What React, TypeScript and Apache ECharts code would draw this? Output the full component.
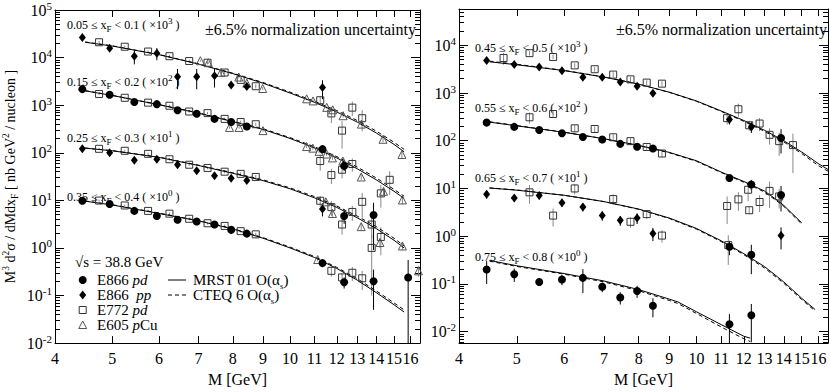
import React, { useEffect, useRef } from "react";
import * as echarts from "echarts";

const FONT = '"Liberation Serif", "Times New Roman", Times, serif';

// ---------- axes ----------
const M_RANGE = [4, 16.6];
const M_TICK_LABELS = [4, 5, 6, 7, 8, 9, 10, 11, 12, 13, 14, 15, 16];
const LEFT_LOG_RANGE = [-2, 5];
const RIGHT_LOG_RANGE = [-2.24, 4.76];

// ---------- texts ----------
const Y_TITLE = "M{sup|3} d{sup|2}σ / dMdx{sub|F} [ nb GeV{sup|2} / nucleon ]";
const X_TITLE = "M [GeV]";
const NORM_TEXT = "±6.5% normalization uncertainty";
const LEFT_BIN_LABELS = [
  "0.05 ≤ x{sub|F} < 0.1 ( ×10{sup|3} )",
  "0.15 ≤ x{sub|F} < 0.2 ( ×10{sup|2} )",
  "0.25 ≤ x{sub|F} < 0.3 ( ×10{sup|1} )",
  "0.35 ≤ x{sub|F} < 0.4 ( ×10{sup|0} )",
];
const RIGHT_BIN_LABELS = [
  "0.45 ≤ x{sub|F} < 0.5 ( ×10{sup|3} )",
  "0.55 ≤ x{sub|F} < 0.6 ( ×10{sup|2} )",
  "0.65 ≤ x{sub|F} < 0.7 ( ×10{sup|1} )",
  "0.75 ≤ x{sub|F} < 0.8 ( ×10{sup|0} )",
];

// ---------- theory curves [M, value] ----------
const bin1_MRST = [[4.5,21000],[5,17500],[6,11500],[7,7300],[8,4600],[9,2900],[10,1800],[11,1150],[12,720],[13,440],[14,260],[15,150],[15.6,105]];
const bin1_CTEQ = [[4.5,21300],[5,17700],[6,11600],[7,7400],[8,4700],[9,3000],[10,1880],[11,1210],[12,770],[13,475],[14,285],[15,166],[15.6,118]];
const bin2_MRST = [[4.5,2000],[5,1600],[6,1020],[7,680],[8,450],[9,310],[10,200],[11,127],[12,78],[13,46],[14,27],[15,15.5],[15.6,11]];
const bin2_CTEQ = [[4.5,2020],[5,1610],[6,1030],[7,690],[8,460],[9,320],[10,208],[11,134],[12,83],[13,50],[14,29.5],[15,17],[15.6,12.2]];
const bin3_MRST = [[4.5,125],[5,110],[6,80],[7,54],[8,37],[9,26],[10,17.5],[11,11.3],[12,7.1],[13,4.3],[14,2.55],[15,1.45],[15.6,1.0]];
const bin3_CTEQ = [[4.5,126],[5,111],[6,81],[7,55],[8,38],[9,27],[10,18.3],[11,12],[12,7.6],[13,4.65],[14,2.8],[15,1.6],[15.6,1.1]];
const bin4_MRST = [[4.5,9.6],[5,8.0],[6,5.3],[7,3.7],[8,2.5],[9,1.6],[10,1.0],[11,0.63],[12,0.37],[13,0.21],[14,0.115],[15,0.064],[15.6,0.045]];
const bin4_CTEQ = [[4.5,9.7],[5,8.1],[6,5.4],[7,3.75],[8,2.55],[9,1.65],[10,1.04],[11,0.66],[12,0.39],[13,0.225],[14,0.125],[15,0.07],[15.6,0.05]];

const bin5_MRST = [[4.5,4500],[5,3900],[6,2950],[7,2150],[8,1530],[9,1040],[10,680],[11,420],[12,265],[13,165],[14,100],[15,58],[16,33],[16.6,25]];
const bin5_CTEQ = [[4.5,4650],[5,4000],[6,2980],[7,2170],[8,1540],[9,1030],[10,670],[11,410],[12,255],[13,157],[14,94],[15,54],[16,30],[16.6,23]];
const bin6_MRST = [[4.5,245],[5,205],[6,150],[7,110],[8,80],[9,57],[10,38],[11,22],[12,14],[13,8.8],[13.7,5.5],[14,4.4],[15,1.9]];
const bin6_CTEQ = [[4.5,250],[5,208],[6,151],[7,110],[8,79],[9,56],[10,37],[11,21.5],[12,13.5],[13,8.4],[13.7,5.2],[14,4.2],[15,1.8]];
const bin7_MRST = [[4.5,10.2],[5,9.2],[6,7.2],[7,5.3],[8,3.7],[9,2.4],[10,1.45],[11,0.8],[12,0.43],[13,0.23],[14,0.11],[15,0.05],[15.8,0.029]];
const bin7_CTEQ = [[4.5,10.3],[5,9.3],[6,7.2],[7,5.3],[8,3.65],[9,2.35],[10,1.4],[11,0.77],[12,0.41],[13,0.215],[14,0.103],[15,0.047],[15.8,0.027]];
const bin8_MRST = [[4.5,0.31],[5,0.24],[6,0.165],[7,0.115],[8,0.076],[9,0.048],[9.3,0.042],[10,0.026],[11,0.014],[12,0.008],[12.3,0.0073]];
const bin8_CTEQ = [[4.5,0.30],[5,0.232],[6,0.16],[7,0.11],[8,0.072],[9,0.045],[9.3,0.039],[10,0.024],[11,0.0125],[12,0.0071],[12.3,0.0062]];

// ---------- data points [M, value, error] ----------
const bin1_E866pp = [[4.45,26500,2000],[4.95,15700,1800],[5.45,10700,3500],[5.95,12300,3500],[6.45,3960,1800],[6.95,3960,1800],[7.45,4150,1800],[7.95,2660,300],[8.45,2460,300],[11.35,2340,1000]];
const bin1_E772 = [[4.75,21000,1200],[5.25,16900,1000],[5.75,13400,800],[6.25,10700,700],[6.75,8470,600],[7.25,7800,600],[7.75,4850,400],[8.25,3400,300],[8.75,2500,250],[11.25,1270,250],[11.75,671,250],[12.25,292,170],[12.75,887,300],[13.25,532,250]];
const bin1_E605 = [[7.05,8600,400],[7.27,7800,400],[7.64,4900,300],[8.19,3900,250],[8.45,2900,200],[8.99,2240,150],[10.67,1360,80],[10.94,1230,80],[11.54,900,60],[11.81,800,60],[12.3,600,50],[13.21,400,40],[14.37,192,25],[15.47,92,15]];

const bin2_E866pd = [[4.45,2170,80],[4.95,1660,60],[5.45,1170,50],[5.95,1050,45],[6.45,781,35],[6.95,662,30],[7.45,515,25],[7.95,442,22],[8.45,357,20],[11.35,119,12],[12.35,53,12]];
const bin2_E772 = [[4.75,1720,80],[5.25,1430,70],[5.75,1130,60],[6.25,972,50],[6.75,736,40],[7.25,681,40],[7.75,515,30],[8.25,442,30],[8.75,398,30],[11.25,67,25],[11.75,34,12],[12.25,44,15],[12.75,58,18],[14.25,14,7],[14.75,27,14]];
const bin2_E605 = [[7.9,340,20],[8.2,340,20],[9.0,292,18],[10.67,135,10],[10.93,125,10],[11.2,107,9],[11.53,94,8],[11.8,78,7],[12.29,67,6],[13.2,31,4],[14.4,15.5,2.5],[15.5,10.2,2]];

const bin3_E866pp = [[4.45,121,6],[4.95,100,5],[5.45,70,4],[5.95,73,4],[6.45,56,3],[6.95,42,3],[7.45,33,2.5],[7.95,29,2],[8.45,26,2],[11.35,6.6,2]];
const bin3_E866pd = [[12.35,4.7,1.5],[13.85,4.9,4]];
const bin3_E772 = [[4.75,121,6],[5.25,110,6],[5.75,95,5],[6.25,73,4],[6.75,56,3],[7.25,48,3],[7.75,40,3],[8.25,36,3],[8.75,31,3],[11.25,9.8,2.5],[11.75,7.2,2.5],[12.25,3.1,1.2],[12.75,5.7,2],[13.25,9.3,5],[13.75,3.1,1.5],[14.25,1.7,1.0]];
const bin3_E605 = [[11.5,9.3,1],[11.8,5.3,0.8],[13.2,2.8,0.5],[14.2,1.3,0.3],[15.5,1.1,0.2]];

const bin4_E866pd = [[4.45,9.8,0.5],[4.95,8.4,0.45],[5.45,6.0,0.35],[5.95,4.7,0.3],[6.45,3.9,0.25],[6.95,3.6,0.2],[7.45,3.1,0.2],[7.95,2.4,0.15],[8.45,2.0,0.15],[11.35,0.48,0.06],[12.35,0.19,0.05],[13.85,0.2,0.15],[15.85,0.24,0.32]];
const bin4_E772 = [[4.75,9.9,0.5],[5.25,7.8,0.4],[5.75,6.0,0.35],[6.25,5.25,0.3],[6.75,4.1,0.25],[7.25,3.3,0.2],[7.75,2.9,0.2],[8.25,2.25,0.15],[8.75,1.93,0.15],[11.75,0.33,0.08],[12.25,0.24,0.05],[12.75,0.30,0.1],[13.25,0.23,0.1],[13.75,1.0,0.9]];
const bin4_E605 = [[11.14,0.57,0.05],[16.5,0.33,0.08]];

const bin5_E866pp = [[4.45,4790,350],[4.95,3970,300],[5.45,3520,250],[5.95,2930,200],[6.45,2140,200],[6.95,2140,200],[7.45,1700,150],[7.95,1390,130],[8.45,990,120],[11.35,279,60],[12.35,195,50]];
const bin5_E866pd = [[13.85,114,60]];
const bin5_E772 = [[4.75,5420,1500],[5.25,6840,700],[5.75,5680,600],[6.25,3790,400],[6.75,3150,350],[7.25,2430,300],[7.75,1930,250],[8.25,1650,200],[8.75,1570,200],[11.25,297,80],[11.75,457,140],[12.25,211,50],[12.75,229,70],[13.25,133,50],[13.75,98,50],[14.5,81,60]];

const bin6_E866pd = [[4.45,240,15],[4.95,195,12],[5.45,168,10],[5.95,144,9],[6.45,120,8],[6.95,106,7],[7.45,86,6],[7.95,75,5],[8.45,69,5],[11.35,16.6,2.5],[12.35,12.1,3],[13.85,7.3,4]];
const bin6_E772 = [[5.25,310,80],[5.75,363,60],[6.25,182,30],[6.75,176,25],[7.25,118,18],[7.75,98,15],[8.25,74,10],[8.75,54,9]];

const bin7_E866pp = [[4.45,7.6,1.5],[4.95,6.3,1.0],[5.45,7.1,1.2],[5.95,5.0,0.9],[6.45,4.1,0.8],[6.95,2.7,0.6],[7.45,2.15,0.5],[7.95,2.4,0.6],[8.45,1.14,0.35],[13.85,1.03,0.5]];
const bin7_E866pd = [[11.35,0.6,0.2],[12.35,0.41,0.25]];
const bin7_E772 = [[5.25,8.3,3.5],[5.75,2.7,1.1],[6.25,10,2.5],[7.25,6.0,1.5],[7.75,2.0,0.5],[8.25,2.9,0.6],[8.75,1.03,0.3],[11.25,4.3,2.5],[11.3,0.65,0.4],[11.75,5.9,2.5],[12.2,9.4,4],[12.25,3.5,0.6],[12.75,5.2,2],[13.25,8.9,5],[13.75,6.8,3]];

const bin8_E866pd = [[4.45,0.20,0.1],[4.95,0.16,0.05],[5.45,0.11,0.02],[5.95,0.124,0.03],[6.45,0.134,0.07],[6.95,0.087,0.02],[7.45,0.052,0.015],[7.95,0.071,0.02],[8.45,0.035,0.015],[11.35,0.0143,0.009],[12.35,0.022,0.016]];

// ---------- building ----------
const lg = Math.log10;

const LEFT_BINS: any[] = [
  { mrst: bin1_MRST, cteq: bin1_CTEQ, pp: bin1_E866pp, e772: bin1_E772, e605: bin1_E605 },
  { mrst: bin2_MRST, cteq: bin2_CTEQ, pd: bin2_E866pd, e772: bin2_E772, e605: bin2_E605 },
  { mrst: bin3_MRST, cteq: bin3_CTEQ, pp: bin3_E866pp, pd: bin3_E866pd, e772: bin3_E772, e605: bin3_E605 },
  { mrst: bin4_MRST, cteq: bin4_CTEQ, pd: bin4_E866pd, e772: bin4_E772, e605: bin4_E605 },
];
const RIGHT_BINS: any[] = [
  { mrst: bin5_MRST, cteq: bin5_CTEQ, pp: bin5_E866pp, pd: bin5_E866pd, e772: bin5_E772 },
  { mrst: bin6_MRST, cteq: bin6_CTEQ, pd: bin6_E866pd, e772: bin6_E772 },
  { mrst: bin7_MRST, cteq: bin7_CTEQ, pp: bin7_E866pp, pd: bin7_E866pd, e772: bin7_E772 },
  { mrst: bin8_MRST, cteq: bin8_CTEQ, pd: bin8_E866pd },
];

const MARKERS: any = {
  pd: { symbol: "circle", size: 8, fill: "#000", stroke: "#000", err: "#000" },
  pp: { symbol: "diamond", size: [7, 9], fill: "#000", stroke: "#000", err: "#000" },
  e772: { symbol: "rect", size: 7, fill: "rgba(0,0,0,0)", stroke: "#333", err: "#888" },
  e605: { symbol: "triangle", size: 8, fill: "rgba(0,0,0,0)", stroke: "#555", err: "#888" },
};

function majors(r: number[]) {
  const out: number[] = [];
  for (let d = Math.ceil(r[0]); d <= Math.floor(r[1]); d++) out.push(d);
  return out;
}
function minors(r: number[]) {
  const out: number[] = [];
  for (let d = Math.floor(r[0]); d <= Math.ceil(r[1]); d++)
    for (let k = 2; k <= 9; k++) {
      const t = d + lg(k);
      if (t > r[0] && t < r[1]) out.push(t);
    }
  return out;
}

const supRich = {
  s: { fontSize: 11, fontFamily: FONT, verticalAlign: "top", lineHeight: 10, color: "#000" },
};

function xAxes(gi: number, withName: boolean) {
  const ticks = M_TICK_LABELS.map(lg);
  const base: any = {
    type: "value",
    gridIndex: gi,
    min: lg(M_RANGE[0]),
    max: lg(M_RANGE[1]),
    splitLine: { show: false },
    axisLine: { show: true, onZero: false, lineStyle: { color: "#000", width: 1 } },
    axisTick: { show: true, inside: true, length: 7, customValues: ticks, lineStyle: { color: "#000" } },
  };
  return [
    {
      ...base,
      position: "bottom",
      axisLabel: {
        customValues: ticks,
        formatter: (v: number) => String(Math.round(Math.pow(10, v))),
        fontSize: 16,
        fontFamily: FONT,
        color: "#000",
        margin: 7,
      },
      name: withName ? X_TITLE : "",
      nameLocation: "middle",
      nameGap: 21,
      nameTextStyle: { fontSize: 16, fontFamily: FONT, color: "#000" },
    },
    { ...base, position: "top", axisLabel: { show: false } },
  ];
}

function yAxes(gi: number, r: number[], title: boolean) {
  const maj = majors(r);
  const min = minors(r);
  const base: any = {
    type: "value",
    gridIndex: gi,
    min: r[0],
    max: r[1],
    splitLine: { show: false },
    axisLine: { show: true, onZero: false, lineStyle: { color: "#000", width: 1 } },
  };
  const majTick = { show: true, inside: true, length: 9, customValues: maj, lineStyle: { color: "#000" } };
  const minTick = { show: true, inside: true, length: 5, customValues: min, lineStyle: { color: "#000" } };
  return [
    {
      ...base,
      position: "left",
      axisTick: majTick,
      axisLabel: {
        customValues: maj,
        formatter: (v: number) => "10{s|" + Math.round(v) + "}",
        rich: supRich,
        fontSize: 16,
        lineHeight: 20,
        fontFamily: FONT,
        color: "#000",
        margin: 3,
      },
      name: title ? Y_TITLE : "",
      nameLocation: "middle",
      nameRotate: 90,
      nameGap: 35,
      nameTextStyle: {
        fontSize: 14,
        fontFamily: FONT,
        color: "#000",
        lineHeight: 19,
        rich: {
          sup: { fontSize: 9.5, fontFamily: FONT, verticalAlign: "top", lineHeight: 9, color: "#000" },
          sub: { fontSize: 9.5, fontFamily: FONT, verticalAlign: "bottom", lineHeight: 9, color: "#000" },
        },
      },
    },
    { ...base, position: "left", axisLine: { show: false, onZero: false }, axisTick: minTick, axisLabel: { show: false } },
    { ...base, position: "right", axisTick: majTick, axisLabel: { show: false } },
    { ...base, position: "right", axisLine: { show: false, onZero: false }, axisTick: minTick, axisLabel: { show: false } },
  ];
}

function panelSeries(gi: number, bins: any[], r: number[]) {
  const xi = gi * 2;
  const yi = gi * 4;
  const floor = r[0] - 1;
  const out: any[] = [];
  const kinds = ["e772", "e605", "pd", "pp"];
  // error bars
  kinds.forEach((k) => {
    const data: number[][] = [];
    bins.forEach((b) => {
      (b[k] || []).forEach(([m, v, e]: number[]) => {
        data.push([lg(m), v - e > 0 ? lg(v - e) : floor, lg(v + e)]);
      });
    });
    if (!data.length) return;
    const color = MARKERS[k].err;
    out.push({
      type: "custom",
      xAxisIndex: xi,
      yAxisIndex: yi,
      clip: true,
      silent: true,
      z: 2,
      encode: { x: 0, y: [1, 2] },
      data,
      renderItem: (params: any, api: any) => {
        const p1 = api.coord([api.value(0), api.value(1)]);
        const p2 = api.coord([api.value(0), api.value(2)]);
        return {
          type: "line",
          shape: { x1: p1[0], y1: p1[1], x2: p2[0], y2: p2[1] },
          style: { stroke: color, lineWidth: 1 },
        };
      },
    });
  });
  // theory curves
  bins.forEach((b) => {
    [["mrst", "solid"], ["cteq", [4, 3]]].forEach(([key, dash]: any) => {
      out.push({
        type: "line",
        xAxisIndex: xi,
        yAxisIndex: yi,
        data: b[key].map(([m, v]: number[]) => [lg(m), lg(v)]),
        symbol: "none",
        silent: true,
        z: 3,
        lineStyle: { color: "#000", width: 1, type: dash },
      });
    });
  });
  // markers
  kinds.forEach((k) => {
    const data: number[][] = [];
    bins.forEach((b) => {
      (b[k] || []).forEach(([m, v]: number[]) => data.push([lg(m), lg(v)]));
    });
    if (!data.length) return;
    const mk = MARKERS[k];
    out.push({
      type: "scatter",
      xAxisIndex: xi,
      yAxisIndex: yi,
      data,
      symbol: mk.symbol,
      symbolSize: mk.size,
      silent: true,
      z: 4,
      itemStyle: { color: mk.fill, borderColor: mk.stroke, borderWidth: k === "e772" || k === "e605" ? 1 : 0, opacity: 1 },
    });
  });
  return out;
}

const labelRich = {
  sub: { fontSize: 9, fontFamily: FONT, verticalAlign: "bottom", lineHeight: 9, fill: "#000" },
  sup: { fontSize: 9, fontFamily: FONT, verticalAlign: "top", lineHeight: 9, fill: "#000" },
  i: { fontSize: 15, fontFamily: FONT, fontStyle: "italic", fill: "#000" },
};

function txt(text: string, x: number, y: number, size: number, extra: any = {}) {
  return {
    type: "text",
    x,
    y,
    silent: true,
    style: {
      text,
      fontSize: size,
      fontFamily: FONT,
      fill: "#000",
      verticalAlign: "middle",
      lineHeight: size + 5,
      rich: labelRich,
      ...extra,
    },
  };
}

function buildGraphics() {
  const g: any[] = [];
  const leftY = [25, 82, 138, 197];
  const rightY = [48, 108, 178, 257];
  LEFT_BIN_LABELS.forEach((t, i) => g.push(txt(t, 67, leftY[i], 12)));
  RIGHT_BIN_LABELS.forEach((t, i) => g.push(txt(t, 475, rightY[i], 12)));
  g.push(txt(NORM_TEXT, 205, 29, 16));
  g.push(txt(NORM_TEXT, 616, 29, 16));
  // legend
  const lx = 82.7;
  g.push(txt("√s = 38.8 GeV", 75, 262, 15));
  g.push({ type: "circle", silent: true, shape: { cx: lx, cy: 280, r: 4 }, style: { fill: "#000" } });
  g.push(txt("E866 {i|pd}", 97, 280, 15));
  g.push({ type: "polygon", silent: true, shape: { points: [[lx, 290.5], [lx + 3.5, 295], [lx, 299.5], [lx - 3.5, 295]] }, style: { fill: "#000" } });
  g.push(txt("E866  {i|pp}", 97, 295, 15));
  g.push({ type: "rect", silent: true, shape: { x: lx - 3.5, y: 306.5, width: 7, height: 7 }, style: { fill: "none", stroke: "#333", lineWidth: 1 } });
  g.push(txt("E772 {i|pd}", 97, 310, 15));
  g.push({ type: "polygon", silent: true, shape: { points: [[lx, 321], [lx + 4, 328.5], [lx - 4, 328.5]] }, style: { fill: "none", stroke: "#555", lineWidth: 1 } });
  g.push(txt("E605 {i|p}Cu", 97, 325, 15));
  g.push({ type: "line", silent: true, shape: { x1: 168, y1: 280, x2: 186, y2: 280 }, style: { stroke: "#000", lineWidth: 1 } });
  g.push(txt("MRST 01 O(α{sub|s})", 193, 280, 15));
  g.push({ type: "line", silent: true, shape: { x1: 168, y1: 295, x2: 186, y2: 295 }, style: { stroke: "#000", lineWidth: 1, lineDash: [4, 3] } });
  g.push(txt("CTEQ 6 O(α{sub|s})", 193, 295, 15));
  return g;
}

function buildOption() {
  return {
    animation: false,
    backgroundColor: "#ffffff",
    textStyle: { fontFamily: FONT },
    grid: [
      { left: 54, top: 9, width: 366, height: 348, containLabel: false },
      { left: 459, top: 9, width: 369, height: 348, containLabel: false },
    ],
    xAxis: [...xAxes(0, true), ...xAxes(1, true)],
    yAxis: [...yAxes(0, LEFT_LOG_RANGE, true), ...yAxes(1, RIGHT_LOG_RANGE, false)],
    series: [...panelSeries(0, LEFT_BINS, LEFT_LOG_RANGE), ...panelSeries(1, RIGHT_BINS, RIGHT_LOG_RANGE)],
    graphic: buildGraphics(),
  };
}

export default function App() {
  const ref = useRef<HTMLDivElement>(null);
  useEffect(() => {
    if (!ref.current) return;
    const chart = echarts.init(ref.current, undefined, { renderer: "svg" });
    chart.setOption(buildOption() as any);
    return () => chart.dispose();
  }, []);
  return (
    <div
      ref={ref}
      style={{ position: "absolute", left: 0, top: 0, width: 830, height: 392, background: "#fff" }}
    />
  );
}
